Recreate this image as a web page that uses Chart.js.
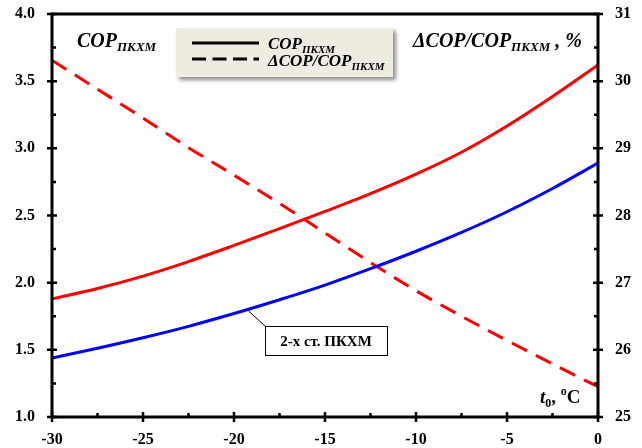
<!DOCTYPE html>
<html>
<head>
<meta charset="utf-8">
<script src="https://cdn.jsdelivr.net/npm/chart.js@4"></script>
<style>
  body { margin: 0; background: #fff; }
  #wrap { width: 642px; height: 448px; }
</style>
</head>
<body>
<div id="wrap"><canvas id="chart" width="642" height="448"></canvas></div>
<script>
// t0, °C
const temps = [-30, -27.5, -25, -22.5, -20, -17.5, -15, -12.5, -10, -7.5, -5, -2.5, 0];
// COP (upper red curve)
const copRed = [1.88, 1.957, 2.049, 2.157, 2.277, 2.402, 2.53, 2.663, 2.808, 2.971, 3.166, 3.386, 3.621];
// COP 2-stage (blue curve)
const copBlue = [1.439, 1.512, 1.59, 1.675, 1.77, 1.873, 1.982, 2.104, 2.234, 2.374, 2.528, 2.701, 2.89];
// dCOP/COP, % (right axis)
const dCop = [30.31, 29.88, 29.45, 29.01, 28.6, 28.18, 27.74, 27.3, 26.88, 26.5, 26.14, 25.79, 25.45];

const xTicks = [-30, -25, -20, -15, -10, -5, 0];
const yLeftTicks = [1.0, 1.5, 2.0, 2.5, 3.0, 3.5, 4.0];
const yRightTicks = [25, 26, 27, 28, 29, 30, 31];

const FONT = '"Liberation Serif", "Times New Roman", serif';

const toPts = (ys) => temps.map((t, i) => ({ x: t, y: ys[i] }));

// text with subscript / superscript pieces: [text, size, dy, italic]
function drawRuns(ctx, x, y, runs) {
  let cx = x;
  runs.forEach(([txt, size, dy, italic]) => {
    ctx.font = (italic === false ? '' : 'italic ') + 'bold ' + size + 'px ' + FONT;
    ctx.fillText(txt, cx, y + (dy || 0));
    cx += ctx.measureText(txt).width;
  });
  return cx;
}

const decor = {
  id: 'decor',
  afterDraw(chart) {
    const { ctx, chartArea: a, scales } = chart;
    const sx = scales.x, sl = scales.y, sr = scales.y1;
    ctx.save();
    ctx.setLineDash([]);
    ctx.strokeStyle = '#000';
    ctx.fillStyle = '#000';

    // frame
    ctx.lineWidth = 3;
    ctx.beginPath();
    ctx.rect(a.left, a.top, a.right - a.left, a.bottom - a.top);
    ctx.stroke();

    // ticks
    ctx.lineWidth = 2.5;
    ctx.beginPath();
    for (let v = -30; v <= 0.001; v += 2.5) {
      const px = sx.getPixelForValue(v);
      const major = Math.abs(v % 5) < 0.001;
      ctx.moveTo(px, major ? a.bottom + 5 : a.bottom);
      ctx.lineTo(px, a.bottom - (major ? 5 : 4));
    }
    for (let v = 1; v <= 4.001; v += 0.25) {
      const py = sl.getPixelForValue(v);
      const major = Math.abs((v * 2) % 1) < 0.001;
      ctx.moveTo(major ? a.left - 5 : a.left, py);
      ctx.lineTo(a.left + (major ? 5 : 4), py);
    }
    for (let v = 25; v <= 31.001; v += 0.5) {
      const py = sr.getPixelForValue(v);
      const major = Math.abs(v % 1) < 0.001;
      ctx.moveTo(major ? a.right + 5 : a.right, py);
      ctx.lineTo(a.right - (major ? 5 : 4), py);
    }
    ctx.stroke();

    ctx.textBaseline = 'alphabetic';
    ctx.textAlign = 'left';

    // axis captions
    drawRuns(ctx, 77, 47, [['COP', 20, 0], ['ПКХМ', 13, 4]]);
    drawRuns(ctx, 413, 47, [['ΔCOP/COP', 20, 0], ['ПКХМ', 13, 4], [' , %', 20, 0]]);
    drawRuns(ctx, 540, 403, [['t', 19, 0], ['0', 12, 4, false], [', ', 19, 0, false], ['o', 12, -8, false], ['C', 19, 0, false]]);

    // legend box
    ctx.save();
    ctx.shadowColor = 'rgba(0,0,0,0.45)';
    ctx.shadowBlur = 4;
    ctx.shadowOffsetX = 3;
    ctx.shadowOffsetY = 3;
    ctx.fillStyle = '#eeece1';
    ctx.fillRect(176, 28, 217, 49);
    ctx.restore();
    ctx.lineWidth = 3;
    ctx.beginPath();
    ctx.moveTo(192, 43); ctx.lineTo(259, 43);
    ctx.stroke();
    ctx.setLineDash([14, 6.5]);
    ctx.beginPath();
    ctx.moveTo(192, 59); ctx.lineTo(259, 59);
    ctx.stroke();
    ctx.setLineDash([]);
    drawRuns(ctx, 268, 49, [['COP', 17, 0], ['ПКХМ', 11, 4]]);
    drawRuns(ctx, 268, 66, [['ΔCOP/COP', 17, 0], ['ПКХМ', 11, 4]]);

    // callout for the 2-stage curve
    const lx = sx.getPixelForValue(-19.2), ly = sl.getPixelForValue(1.79);
    ctx.lineWidth = 1;
    ctx.beginPath();
    ctx.moveTo(lx, ly); ctx.lineTo(266, 327);
    ctx.stroke();
    ctx.fillStyle = '#fff';
    ctx.fillRect(265.5, 326.5, 122, 29);
    ctx.strokeRect(265.5, 326.5, 122, 29);
    ctx.fillStyle = '#000';
    ctx.textAlign = 'center';
    ctx.textBaseline = 'middle';
    ctx.font = 'bold 15px ' + FONT;
    ctx.fillText('2-х ст. ПКХМ', 326, 342);
    ctx.restore();
  }
};

const tickFont = { family: FONT, size: 16, weight: 'bold' };
const noPadY = (w) => (s) => { s.width = w; s.paddingTop = 0; s.paddingBottom = 0; };

new Chart(document.getElementById('chart'), {
  type: 'line',
  data: {
    datasets: [
      { data: toPts(copRed), borderColor: 'rgb(255,0,0)', borderWidth: 3, yAxisID: 'y' },
      { data: toPts(copBlue), borderColor: 'rgb(0,0,255)', borderWidth: 3, yAxisID: 'y' },
      { data: toPts(dCop), borderColor: 'rgb(255,0,0)', borderWidth: 3, borderDash: [17, 10], yAxisID: 'y1' }
    ]
  },
  options: {
    responsive: false,
    animation: false,
    layout: { padding: { top: 14, left: 0, right: 0, bottom: 0 } },
    elements: { point: { radius: 0 }, line: { cubicInterpolationMode: 'monotone' } },
    plugins: { legend: { display: false }, tooltip: { enabled: false } },
    scales: {
      x: {
        type: 'linear', min: -30, max: 0,
        afterBuildTicks: (s) => { s.ticks = xTicks.map(v => ({ value: v })); },
        afterFit: (s) => { s.height = 31; s.paddingLeft = 0; s.paddingRight = 0; },
        grid: { display: false, drawTicks: false }, border: { display: false },
        ticks: { font: tickFont, color: '#000', padding: 13, maxRotation: 0 }
      },
      y: {
        position: 'left', min: 1, max: 4,
        afterBuildTicks: (s) => { s.ticks = yLeftTicks.map(v => ({ value: v })); },
        afterFit: noPadY(52),
        grid: { display: false, drawTicks: false }, border: { display: false },
        ticks: { font: tickFont, color: '#000', padding: 17, callback: (v) => v.toFixed(1) }
      },
      y1: {
        position: 'right', min: 25, max: 31,
        afterBuildTicks: (s) => { s.ticks = yRightTicks.map(v => ({ value: v })); },
        afterFit: noPadY(44),
        grid: { display: false, drawTicks: false }, border: { display: false },
        ticks: { font: tickFont, color: '#000', padding: 17 }
      }
    }
  },
  plugins: [decor]
});
</script>
</body>
</html>
